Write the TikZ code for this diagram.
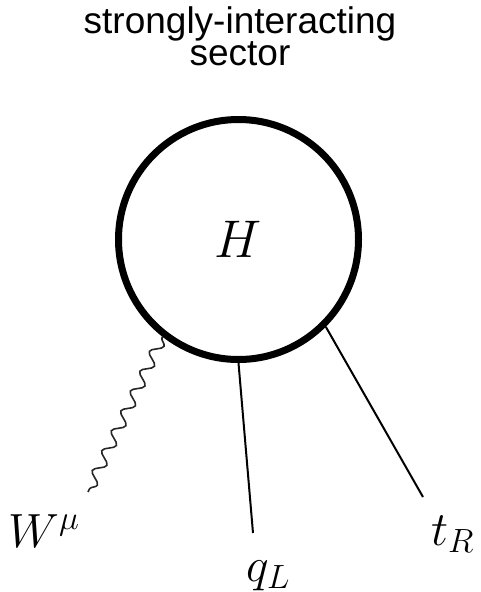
\documentclass[tikz,border=0pt]{standalone}
\usepackage{fix-cm}
\usepackage{fontspec}
\setsansfont{Liberation Sans}
\usepackage{tikz}
\usetikzlibrary{positioning, decorations.pathmorphing}
\tikzset{
  blob/.style    ={draw, circle, line width=7pt, minimum size=240pt, inner sep=0pt,
                   font=\fontsize{53}{60}\selectfont},
  ttl/.style     ={align=center, inner sep=0pt, font=\sffamily\fontsize{37}{32}\selectfont},
  lbl/.style     ={inner sep=0pt, anchor=base west, font=\fontsize{48}{54}\selectfont},
  fermion/.style ={line width=2pt},
  boson/.style   ={line width=1.6pt, black!85, decorate,
                   decoration={snake, segment length=22pt, amplitude=5.5pt,
                               pre length=1pt, post length=1pt}},
}

\begin{document}
\begin{tikzpicture}[x=1pt, y=-1pt]
  \useasboundingbox (0,0) rectangle (481,592);
  \node[ttl, anchor=base] (T) at (240,65) {strongly-interacting\\sector};
  \node[blob] (HS) at (238.5,239.5) {$H$};
  \node[lbl] (W)  at (8,547)   {$W^\mu$};
  \node[lbl] (QL) at (246,581) {$q_L$};
  \node[lbl] (TR) at (431,545) {$t_R$};
  \coordinate (Wend)  at (88,492);
  \coordinate (QLend) at (253,533);
  \coordinate (TRend) at (423,497);
  \draw[boson]   (HS.-128) -- (Wend);
  \draw[fermion] (HS.-90)  -- (QLend);
  \draw[fermion] (HS.-45)  -- (TRend);
\end{tikzpicture}
\end{document}
